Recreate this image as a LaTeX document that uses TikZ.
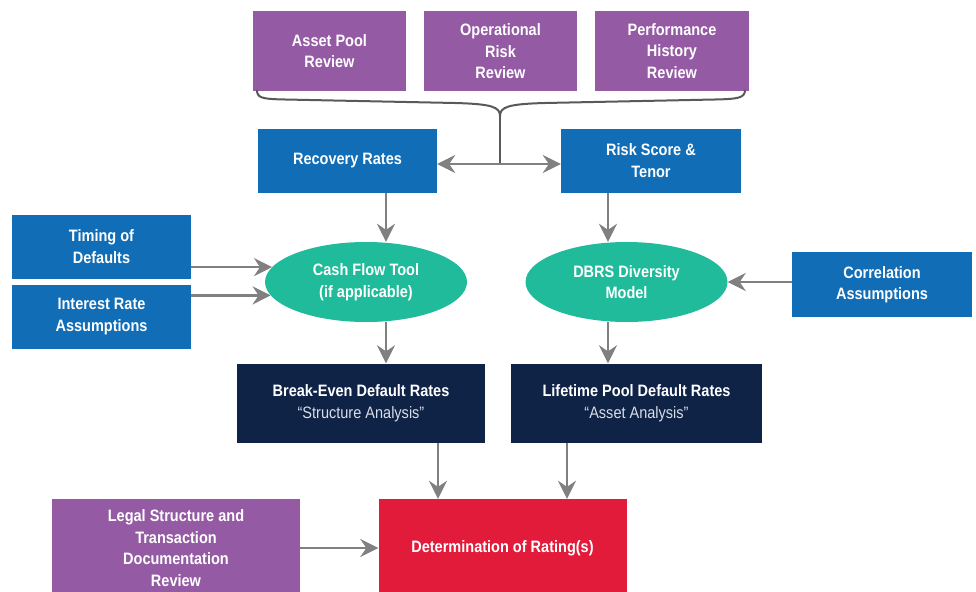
\documentclass[tikz,border=0pt]{standalone}
\usepackage{fontspec}
\setmainfont[FakeStretch=0.88]{Liberation Sans}
\usetikzlibrary{shapes.geometric,arrows.meta}
\definecolor{purp}{HTML}{955AA4}
\definecolor{blu}{HTML}{106DB6}
\definecolor{tealg}{HTML}{1FBB9A}
\definecolor{navy}{HTML}{0F2347}
\definecolor{redd}{HTML}{E31B3A}
\definecolor{arrgray}{HTML}{808080}
\definecolor{bracegray}{HTML}{595959}
\definecolor{subtxt}{HTML}{D9DDE6}
\begin{document}
\begin{tikzpicture}[x=1pt,y=-1pt,
  box/.style={rectangle, inner sep=0pt, align=center, text=white,
    font=\fontsize{16.5}{21.5}\selectfont\bfseries},
  pbox/.style={box, fill=purp, minimum width=153pt, minimum height=80pt},
  bbox/.style={box, fill=blu, minimum width=179pt, minimum height=64pt},
  nbox/.style={box, fill=navy, minimum width=249pt, minimum height=79pt},
  ell/.style={ellipse, inner sep=0pt, fill=tealg, align=center, text=white,
    minimum width=202pt, minimum height=80pt,
    font=\fontsize{16.5}{21.5}\selectfont\bfseries},
  arr/.style={draw=arrgray, line width=2.5pt,
    -{Stealth[length=18pt,width=18pt,inset=6pt]}},
  brace/.style={draw=bracegray, line width=2pt}
]
\useasboundingbox (0,0) rectangle (976,591);
% top review boxes
\node[pbox] (apr) at (329.5,51) {Asset Pool\\Review};
\node[pbox] (orr) at (500.5,51.5) {Operational\\Risk\\Review};
\node[pbox, minimum width=154pt] (phr) at (672,51) {Performance\\History\\Review};
% brace
\coordinate (bt) at (500,116);
\coordinate (bj) at (500,164);
\draw[brace] (257,90) .. controls (257,98) and (262,99) .. (285,99.5)
  -- (455,103) .. controls (492,104) and (500,107) .. (bt);
\draw[brace] (bt) .. controls (500,107) and (508,104) .. (545,103)
  -- (715,99.5) .. controls (738,99) and (745,98) .. (745,90);
\draw[brace] (bt) -- (bj);
% second row
\node[bbox] (rr) at (347.5,160.5) {Recovery Rates};
\node[bbox, minimum width=180pt] (rs) at (651,160.5) {Risk Score \&\\Tenor};
\draw[arr] (bj) -- (rr.east |- bj);
\draw[arr] (bj) -- (rs.west |- bj);
% left inputs
\node[bbox] (tim) at (101.5,246.5) {Timing of\\Defaults};
\node[bbox] (ira) at (101.5,316.5) {Interest Rate\\Assumptions};
% ellipses
\node[ell] (cf) at (366,282) {Cash Flow Tool\\(if applicable)};
\node[ell] (dbrs) at (626.5,282) {DBRS Diversity\\Model};
\node[bbox, minimum width=180pt, minimum height=65pt] (cor) at (882,284.5) {Correlation\\Assumptions};
\draw[arr] (tim.east |- cf.171.6) -- (cf.171.6);
\draw[arr] (ira.east |- cf.188.4) -- (cf.188.4);
\draw[arr] (cor.west |- dbrs.east) -- (dbrs.east);
\draw[arr] ([xshift=38.5pt]rr.south) -- ([xshift=38.5pt]rr.south |- cf.north);
\draw[arr] ([xshift=-43pt]rs.south) -- ([xshift=-43pt]rs.south |- dbrs.north);
% analysis boxes
\node[nbox, minimum width=248pt] (bev) at (361,403)
  {Break-Even Default Rates\\{\mdseries\color{subtxt}“Structure Analysis”}};
\node[nbox, minimum width=251pt] (lpd) at (636.5,403)
  {Lifetime Pool Default Rates\\{\mdseries\color{subtxt}“Asset Analysis”}};
\draw[arr] ([xshift=20pt]cf.south) -- ([xshift=20pt]cf.south |- bev.north);
\draw[arr] ([xshift=-18.5pt]dbrs.south) -- ([xshift=-18.5pt]dbrs.south |- lpd.north);
% bottom row
\node[box, fill=redd, minimum width=248pt, minimum height=98pt] (rat) at (502.5,548)
  {Determination of Rating(s)};
\node[box, fill=purp, minimum width=248pt, minimum height=98pt] (leg) at (176,548)
  {Legal Structure and\\Transaction\\Documentation\\Review};
\draw[arr] ([xshift=77pt]bev.south) -- ([xshift=77pt]bev.south |- rat.north);
\draw[arr] ([xshift=-69.5pt]lpd.south) -- ([xshift=-69.5pt]lpd.south |- rat.north);
\draw[arr] (leg.east) -- (rat.west);
\end{tikzpicture}
\end{document}
